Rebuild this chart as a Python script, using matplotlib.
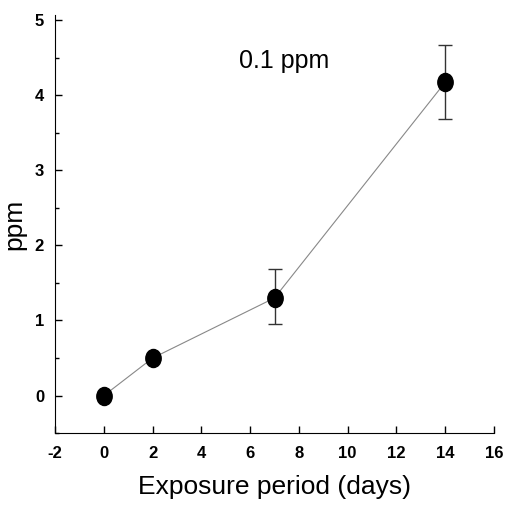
import numpy as np
import matplotlib
matplotlib.use("Agg")
import matplotlib.pyplot as plt
from matplotlib.path import Path
from matplotlib.transforms import Affine2D
from matplotlib.ticker import MultipleLocator

plt.rcParams['font.family'] = ['Liberation Sans', 'DejaVu Sans']
plt.rcParams['axes.unicode_minus'] = False

# Data
days = [0, 2, 7, 14]
ppm = [0.0, 0.5, 1.3, 4.17]
err_low = [0.0, 0.0, 0.35, 0.49]
err_high = [0.0, 0.0, 0.38, 0.50]

fig = plt.figure(figsize=(5.06, 5.09), dpi=100)
ax = fig.add_axes([0.109, 0.149, 0.867, 0.822])

# slightly tall ellipse marker
ellipse = Path.unit_circle().transformed(Affine2D().scale(0.85, 1.0))

ax.plot(days, ppm, color='#888888', linewidth=0.8, zorder=1)
ax.errorbar(days, ppm, yerr=[err_low, err_high], fmt='none', ecolor='#333333',
            elinewidth=1.0, capsize=5, capthick=1.0, zorder=2)
ax.plot(days, ppm, linestyle='none', marker=ellipse, markersize=13,
        color='black', zorder=3)

ax.text(7.4, 4.45, '0.1 ppm', fontsize=18, ha='center', va='center')

ax.set_xlim(-2, 16)
ax.set_ylim(-0.5, 5.07)
ax.xaxis.set_major_locator(MultipleLocator(2))
ax.yaxis.set_major_locator(MultipleLocator(1))
ax.yaxis.set_minor_locator(MultipleLocator(0.5))
ax.tick_params(direction='in', which='major', length=5, width=1)
ax.tick_params(direction='in', which='minor', length=3, width=1)
ax.tick_params(axis='x', pad=9)
ax.tick_params(axis='y', pad=8)
for lbl in ax.get_xticklabels() + ax.get_yticklabels():
    lbl.set_fontweight('bold')
    lbl.set_fontsize(12)

ax.spines['top'].set_visible(False)
ax.spines['right'].set_visible(False)

ax.set_xlabel('Exposure period (days)', fontsize=19, labelpad=10)
ax.set_ylabel('ppm', fontsize=19, labelpad=6)

fig.savefig('out.png', dpi=100)
